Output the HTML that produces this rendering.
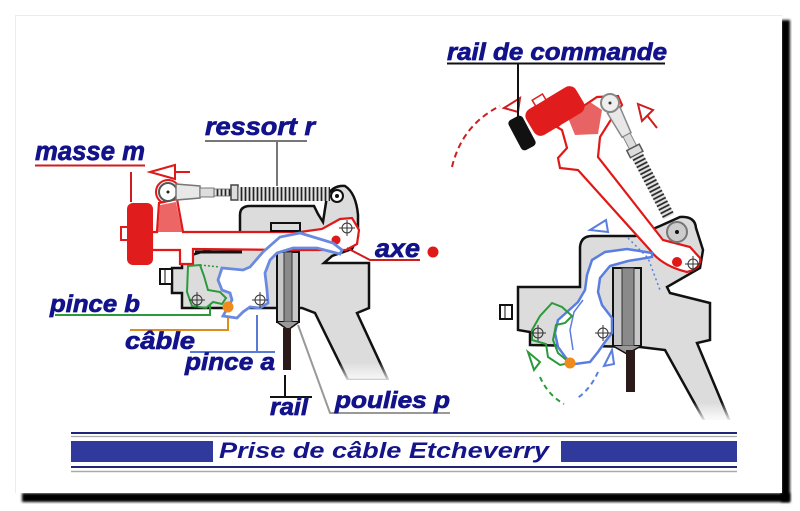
<!DOCTYPE html>
<html><head><meta charset="utf-8">
<style>
html,body{margin:0;padding:0;background:#fff;}
svg{display:block;}
.lbl{font-family:"Liberation Sans",sans-serif;font-weight:bold;font-style:italic;fill:#12128a;stroke:#12128a;stroke-width:0.7;}
</style></head><body>
<svg width="800" height="511" viewBox="0 0 800 511" xmlns="http://www.w3.org/2000/svg">
<defs>
<filter id="blur" x="-20%" y="-20%" width="140%" height="140%"><feGaussianBlur stdDeviation="1.3"/></filter>
<pattern id="coil" width="4" height="20" patternUnits="userSpaceOnUse"><rect width="4" height="20" fill="#e2e2e2"/><line x1="1.5" y1="0" x2="1.5" y2="20" stroke="#222" stroke-width="1.7"/></pattern>
<linearGradient id="fade" x1="0" y1="0" x2="0" y2="1"><stop offset="0" stop-color="#fff" stop-opacity="0"/><stop offset="1" stop-color="#fff" stop-opacity="1"/></linearGradient>
</defs>

<!-- card + shadow -->
<rect x="781" y="20" width="9" height="482" fill="#000" filter="url(#blur)"/>
<rect x="22" y="493" width="768" height="9" fill="#000" filter="url(#blur)"/>
<rect x="15" y="15" width="767" height="478" fill="#fff"/>
<path d="M15.5 493 V15.5 H782" stroke="#ececec" fill="none"/>

<!-- ===== LEFT FIGURE ===== -->
<path d="M240 240 L240 215 Q240 206 250 206 L314 206 L318 214 L323 222 L327 196 Q333 185 345 186 Q356 193 358 215 L358 236 L352 249 L332 256 L324 263 L369 263 L369 308 L357 313 L388 380 L348 380 L315 313 L302 308 L182 308 L182 293 L172 293 L172 268 L182 268 L182 258 Z" fill="#dcdcdc" stroke="#111" stroke-width="2.5"/>
<rect x="340" y="362" width="56" height="22" fill="url(#fade)"/>
<rect x="340" y="380" width="56" height="6" fill="#fff"/>
<line x1="195" y1="252" x2="242" y2="252" stroke="#111" stroke-width="3"/>
<rect x="160" y="269" width="12" height="15" fill="#fff" stroke="#111" stroke-width="2"/>
<line x1="165" y1="269" x2="165" y2="284" stroke="#111" stroke-width="1"/>

<!-- pulley left -->
<rect x="277" y="252" width="22" height="70" fill="#c8c8c8" stroke="#111" stroke-width="2"/>
<rect x="284" y="252" width="8" height="70" fill="#8a8a8a" stroke="#333" stroke-width="1"/>
<path d="M277 322 L288 330 L299 322" fill="#999" stroke="#111" stroke-width="1.5"/>
<rect x="283" y="328" width="8" height="42" fill="#2a1a1a"/>

<!-- red lever left -->
<circle cx="168" cy="192" r="12" fill="#fff" stroke="#e01818" stroke-width="2"/>
<path d="M152 232 L157 232 L159 203 L177 199 L183 232 L300 232 L322 229 L340 219 L352 218 L359 230 L357 244 L346 250 L320 250 L290 250 L193 249 L193 264 L180 264 L180 250 L152 250 Z" fill="#fff" stroke="#e01818" stroke-width="2.2"/>
<path d="M158 232 L160 205 L176 202 L182 232 Z" fill="#e84040" opacity="0.8"/>
<rect x="271" y="223" width="29" height="8" fill="#ddd" stroke="#111" stroke-width="2"/>
<rect x="127" y="203" width="26" height="62" rx="6" fill="#e01c1c"/>
<rect x="121" y="227" width="7" height="13" fill="#fff" stroke="#e01c1c" stroke-width="2"/>
<circle cx="168" cy="192" r="9" fill="#fff" stroke="#555" stroke-width="2"/>
<circle cx="168" cy="192" r="1.5" fill="#222"/>
<path d="M176 184 L200 186 L200 198 L176 200 Z" fill="#e8e8e8" stroke="#777" stroke-width="1.5"/>
<rect x="200" y="188" width="14" height="9" fill="#ddd" stroke="#777"/>
<rect x="214" y="189" width="17" height="7" fill="url(#coil)" stroke="#666" stroke-width="0.8"/>
<rect x="231" y="185" width="7" height="15" fill="#ddd" stroke="#444" stroke-width="1.5"/>
<rect x="238" y="187" width="92" height="14" fill="url(#coil)"/>
<circle cx="337" cy="196" r="6" fill="#fff" stroke="#111" stroke-width="2"/>
<circle cx="337" cy="196" r="2" fill="#111"/>
<line x1="190" y1="172" x2="160" y2="172" stroke="#e01818" stroke-width="2"/>
<path d="M150 172 L175 165 L175 179 Z" fill="#fff" stroke="#e01818" stroke-width="2"/>
<circle cx="336" cy="240" r="4.5" fill="#e01818"/>
<g stroke="#333" stroke-width="1" fill="none"><circle cx="347" cy="228" r="5"/><line x1="339" y1="228" x2="355" y2="228"/><line x1="347" y1="220" x2="347" y2="236"/></g>

<!-- blue pince a left -->
<path d="M342 250 L333 243 L300 233 L280 237 L263 252 L250 267 L243 270 L222 268 L218 280 L222 290 L230 293 L232 300 L223 316 L237 318 L243 312 L250 307 L260 308 L268 303 L267 290 L265 273 L270 260 L277 253 L293 248 L317 248 L340 254 Z" fill="#fff" stroke="#6a8ae0" stroke-width="2.8"/>
<!-- green pince b left -->
<path d="M188 266 L187 292 L192 306 L206 308 L213 302 L222 304 L226 298 L220 292 L208 290 L204 276 L200 265 Z" fill="none" stroke="#2a9a3a" stroke-width="2"/>
<line x1="200" y1="265" x2="220" y2="267" stroke="#2a9a3a" stroke-width="1.5" stroke-dasharray="2,2"/>
<circle cx="228" cy="307" r="5.5" fill="#f08a1c"/>
<g stroke="#333" stroke-width="1" fill="none">
<circle cx="197" cy="300" r="5"/><line x1="189" y1="300" x2="205" y2="300"/><line x1="197" y1="292" x2="197" y2="308"/>
<circle cx="260" cy="300" r="5"/><line x1="252" y1="300" x2="268" y2="300"/><line x1="260" y1="292" x2="260" y2="308"/>
</g>

<!-- labels left -->
<text class="lbl" x="35" y="160" font-size="27" textLength="110" lengthAdjust="spacingAndGlyphs">masse m</text>
<line x1="35" y1="165.5" x2="145" y2="165.5" stroke="#d01c1c" stroke-width="2"/>
<line x1="131" y1="172" x2="131" y2="202" stroke="#d01c1c" stroke-width="2"/>
<text class="lbl" x="205" y="135" font-size="25" textLength="110" lengthAdjust="spacingAndGlyphs">ressort r</text>
<line x1="205" y1="141" x2="307" y2="141" stroke="#777" stroke-width="2"/>
<line x1="277" y1="141" x2="277" y2="186" stroke="#777" stroke-width="2"/>
<text class="lbl" x="375" y="257" font-size="26" textLength="45" lengthAdjust="spacingAndGlyphs">axe</text>
<polyline points="347,248 370,260 420,260" fill="none" stroke="#d01c1c" stroke-width="2"/>
<circle cx="433" cy="252" r="5.5" fill="#e01818"/>
<text class="lbl" x="50" y="312" font-size="24" textLength="90" lengthAdjust="spacingAndGlyphs">pince b</text>
<polyline points="55,315 210,315 210,304" fill="none" stroke="#2a9a3a" stroke-width="2"/>
<polyline points="130,330 228,330 228,318" fill="none" stroke="#e08a20" stroke-width="2"/>
<text class="lbl" x="125" y="349" font-size="24" textLength="70" lengthAdjust="spacingAndGlyphs">câble</text>
<polyline points="190,352 275,352" fill="none" stroke="#5a7ad8" stroke-width="2"/>
<line x1="257" y1="352" x2="257" y2="315" stroke="#5a7ad8" stroke-width="2"/>
<text class="lbl" x="185" y="370" font-size="24" textLength="90" lengthAdjust="spacingAndGlyphs">pince a</text>
<line x1="285" y1="375" x2="285" y2="397" stroke="#111" stroke-width="2"/>
<line x1="270" y1="397" x2="312" y2="397" stroke="#111" stroke-width="2"/>
<text class="lbl" x="270" y="415" font-size="24" textLength="38" lengthAdjust="spacingAndGlyphs">rail</text>
<polyline points="298,325 330,413 450,413" fill="none" stroke="#999" stroke-width="2"/>
<text class="lbl" x="335" y="408" font-size="23" textLength="115" lengthAdjust="spacingAndGlyphs">poulies p</text>

<!-- ===== RIGHT FIGURE ===== -->
<path d="M518 287 L580 287 L580 247 Q581 236 592 236 L636 236 L660 226 L680 217 Q695 216 696 228 L703 250 L700 268 L667 287 L670 293 L710 303 L710 340 L697 343 L730 422 L705 422 L665 350 L640 347 L530 345 L530 332 L518 330 Z" fill="#dcdcdc" stroke="#111" stroke-width="2.5"/>
<rect x="660" y="402" width="80" height="20" fill="url(#fade)"/>
<rect x="660" y="420" width="80" height="6" fill="#fff"/>
<rect x="500" y="305" width="12" height="14" fill="#fff" stroke="#111" stroke-width="2"/>
<line x1="505" y1="305" x2="505" y2="319" stroke="#111" stroke-width="1"/>

<!-- pulley right -->
<rect x="613" y="268" width="28" height="78" fill="#c8c8c8" stroke="#111" stroke-width="2"/>
<rect x="622" y="268" width="12" height="78" fill="#8a8a8a" stroke="#333" stroke-width="1"/>
<path d="M613 346 L627 354 L641 346" fill="#999" stroke="#111" stroke-width="1.5"/>
<rect x="626" y="350" width="9" height="42" fill="#2a1a1a"/>

<!-- red lever right -->
<path d="M557 127 L562 130 L567 148 L558 158 L560 168 L578 170 L650 250 Q662 266 687 272 Q702 268 700 258 L690 247 L663 240 L598 157 L600 137 L612 118 L622 105 L618 96 L597 97 L585 105 L575 110 Z" fill="#fff" stroke="#e01818" stroke-width="2.2"/>
<path d="M568 118 L590 102 L602 110 L598 134 L575 135 Z" fill="#e03030" opacity="0.75"/>
<g transform="translate(555,111) rotate(-31)">
<rect x="-29" y="-15" width="58" height="30" rx="8" fill="#e01c1c"/>
<rect x="-14" y="-21" width="12" height="7" fill="#fff" stroke="#e01c1c" stroke-width="1.5"/>
</g>
<g transform="translate(522,133) rotate(62)"><rect x="-17" y="-8" width="34" height="16" rx="4" fill="#111"/></g>
<g transform="translate(610,103) rotate(62.6)">
<path d="M8 -7 L36 -5 L36 5 L8 7 Z" fill="#e8e8e8" stroke="#888" stroke-width="1.5"/>
<rect x="36" y="-4" width="14" height="8" fill="#ddd" stroke="#888"/>
<rect x="50" y="-7" width="8" height="14" fill="#ddd" stroke="#555" stroke-width="1.5"/>
<rect x="58" y="-6" width="70" height="12" fill="url(#coil)"/>
</g>
<circle cx="610" cy="103" r="9" fill="#eee" stroke="#888" stroke-width="2"/>
<circle cx="610" cy="103" r="1.5" fill="#333"/>
<circle cx="677" cy="232" r="10" fill="#ccc" stroke="#777" stroke-width="2"/>
<circle cx="677" cy="232" r="2" fill="#111"/>
<circle cx="677" cy="262" r="5" fill="#e01818"/>
<g stroke="#333" stroke-width="1" fill="none"><circle cx="693" cy="264" r="5"/><line x1="685" y1="264" x2="701" y2="264"/><line x1="693" y1="256" x2="693" y2="272"/></g>

<path d="M452 167 Q462 125 500 106" fill="none" stroke="#d01c1c" stroke-width="2" stroke-dasharray="6,4"/>
<path d="M504 108 L520 98 L518 112 Z" fill="#fff" stroke="#d01c1c" stroke-width="2"/>
<line x1="646" y1="114" x2="657" y2="128" stroke="#d01c1c" stroke-width="2"/>
<path d="M638 104 L653 110 L642 121 Z" fill="#fff" stroke="#d01c1c" stroke-width="2"/>

<!-- blue pince a right -->
<path d="M652 253 L627 249 L605 252 L592 260 L587 275 L585 290 L578 302 L567 312 L558 320 L555 333 L558 347 L566 358 L575 364 L590 362 L598 352 L605 342 L612 333 L612 318 L602 305 L598 292 L600 278 L610 266 L628 261 L652 257 Z" fill="#fff" stroke="#5a7ee0" stroke-width="2.5"/>
<path d="M583 300 L574 312 L570 330 L573 350" fill="none" stroke="#5a7ee0" stroke-width="1.5"/>
<path d="M628 238 L648 258 L660 290" fill="none" stroke="#5a7ee0" stroke-width="1.5" stroke-dasharray="2,3"/>
<path d="M590 230 L606 220 L608 232 Z" fill="none" stroke="#5a7ee0" stroke-width="2"/>
<path d="M532 330 L540 316 L552 303 L562 307 L572 316 L565 323 L556 325 L553 340 L558 353 L570 363 L560 365 L548 357 L546 344 L532 340 Z" fill="none" stroke="#2a9a3a" stroke-width="2"/>
<circle cx="570" cy="363" r="5.5" fill="#f08a1c"/>
<g stroke="#333" stroke-width="1" fill="none">
<circle cx="538" cy="333" r="5"/><line x1="530" y1="333" x2="546" y2="333"/><line x1="538" y1="325" x2="538" y2="341"/>
<circle cx="603" cy="333" r="5"/><line x1="595" y1="333" x2="611" y2="333"/><line x1="603" y1="325" x2="603" y2="341"/>
</g>
<path d="M540 377 Q548 395 564 404" fill="none" stroke="#2a9a3a" stroke-width="2" stroke-dasharray="5,4"/>
<path d="M528 352 L534 370 L540 362 Z" fill="none" stroke="#2a9a3a" stroke-width="2"/>
<path d="M598 372 Q590 390 576 399" fill="none" stroke="#5a7ee0" stroke-width="2" stroke-dasharray="5,4"/>
<path d="M612 350 L604 366 L614 364 Z" fill="none" stroke="#5a7ee0" stroke-width="2"/>

<text class="lbl" x="447" y="60" font-size="24" textLength="220" lengthAdjust="spacingAndGlyphs">rail de commande</text>
<line x1="447" y1="63.5" x2="665" y2="63.5" stroke="#111" stroke-width="2"/>
<line x1="518" y1="63" x2="518" y2="118" stroke="#111" stroke-width="2"/>

<!-- ===== TITLE BANNER ===== -->
<line x1="71" y1="433" x2="737" y2="433" stroke="#1f2678" stroke-width="2"/>
<line x1="71" y1="436.5" x2="737" y2="436.5" stroke="#aaa" stroke-width="1.2"/>
<rect x="71" y="441" width="142" height="21" fill="#2f3a9c"/>
<rect x="561" y="441" width="176" height="21" fill="#2f3a9c"/>
<line x1="71" y1="467" x2="737" y2="467" stroke="#1f2678" stroke-width="2"/>
<line x1="71" y1="471.5" x2="737" y2="471.5" stroke="#aaa" stroke-width="1.5"/>
<text x="219" y="458" font-family="Liberation Sans, sans-serif" font-weight="bold" font-style="italic" font-size="22" fill="#15158a" textLength="330" lengthAdjust="spacingAndGlyphs">Prise de câble Etcheverry</text>
</svg>
</body></html>
